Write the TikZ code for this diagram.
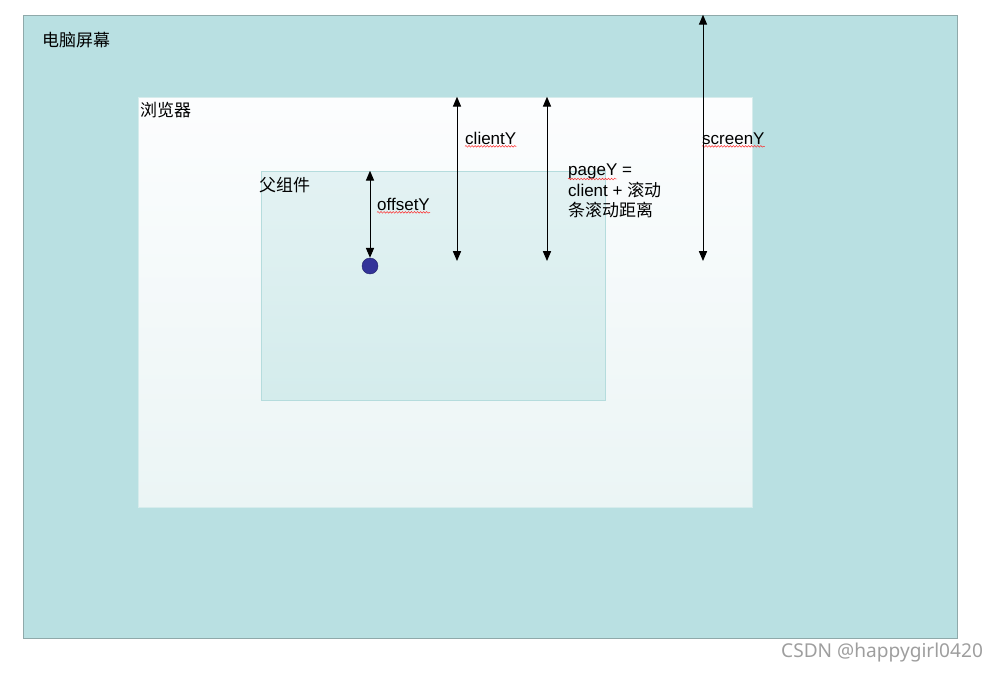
\documentclass[tikz,border=0pt]{standalone}
\usepackage{fontspec}
\setmainfont{Liberation Sans}
\newfontfamily\cjk{Noto Sans CJK SC}
\newfontfamily\wmfont{Noto Sans}
\usetikzlibrary{fit,arrows.meta,decorations.pathmorphing}

\definecolor{screenfill}{HTML}{B9E0E2}
\definecolor{screenline}{HTML}{8FA9AA}
\definecolor{pagetop}{HTML}{FCFDFE}
\definecolor{pagebot}{HTML}{EBF5F5}
\definecolor{pageline}{HTML}{D6ECEC}
\definecolor{boxtop}{HTML}{E3F2F3}
\definecolor{boxbot}{HTML}{D4ECEC}
\definecolor{boxline}{HTML}{B5DCDD}
\definecolor{dotblue}{HTML}{333399}

\begin{document}
\begin{tikzpicture}[x=0.03cm,y=-0.03cm,
    every node/.style={font=\fontsize{14.5}{17.5}\selectfont, inner sep=0pt},
    area/.style={rectangle, inner sep=0pt},
    lbl/.style={anchor=west},
    dim/.style={{Triangle[width=7pt,length=8.5pt]}-{Triangle[width=7pt,length=8.5pt]}, line width=0.85pt},
    spell/.style={red!85!white, line width=0.4pt, decorate,
        decoration={snake, amplitude=0.7pt, segment length=2.6pt}}]

    \useasboundingbox (0,0) rectangle (998,673);

    % nested areas
    \node (screen) [area, fill=screenfill, draw=screenline, fit={(23,15) (957,638)}] {};
    \node (browser) [area, top color=pagetop, bottom color=pagebot, draw=pageline, fit={(138,97) (752,507)}] {};
    \node (parent) [area, top color=boxtop, bottom color=boxbot, draw=boxline, fit={(261,171) (605,400)}] {};
    \node (dot) [circle, minimum size=0.48cm, fill=dotblue, draw=dotblue!70!black] at (370,266) {};

    % labels
    \node (screenlbl) [lbl] at (42,40) {\cjk 电脑屏幕};
    \node (browserlbl) [lbl] at (140,110) {\cjk 浏览器};
    \node (parentlbl) [lbl] at (259,185) {\cjk 父组件};
    \node (offsetlbl) [anchor=base west] at (377,210) {offsetY};
    \node (clientlbl) [anchor=base west] at (465,144) {clientY};
    \node (screenYlbl) [anchor=base west] at (702,144) {screenY};
    \node (pagelbl) [anchor=north west, align=left] at (568,164)
        {pageY =\\client + {\cjk 滚动}\\{\cjk 条滚动距离}};
    \node (mark) [anchor=west, text=black!38, font=\wmfont\fontsize{16.3}{18}\selectfont] at (781,653) {CSDN @happygirl0420};

    % spelling marks
    \draw[spell] ([yshift=-2pt]offsetlbl.base west) -- ([yshift=-2pt]offsetlbl.base east);
    \draw[spell] ([yshift=-2pt]clientlbl.base west) -- ([yshift=-2pt]clientlbl.base east);
    \draw[spell] ([yshift=-2pt]screenYlbl.base west) -- ([yshift=-2pt]screenYlbl.base east);
    \draw[spell] (568,179) -- (617,179);

    % measurement ends
    \coordinate (clientbot) at (457,261);
    \coordinate (pagebot) at (547,261);
    \coordinate (screenbot) at (703,261);

    \draw[dim] (dot.north |- parent.north) -- (dot.north);
    \draw[dim] (clientbot |- browser.north) -- (clientbot);
    \draw[dim] (pagebot |- browser.north) -- (pagebot);
    \draw[dim] (screenbot |- screen.north) -- (screenbot);
\end{tikzpicture}
\end{document}
